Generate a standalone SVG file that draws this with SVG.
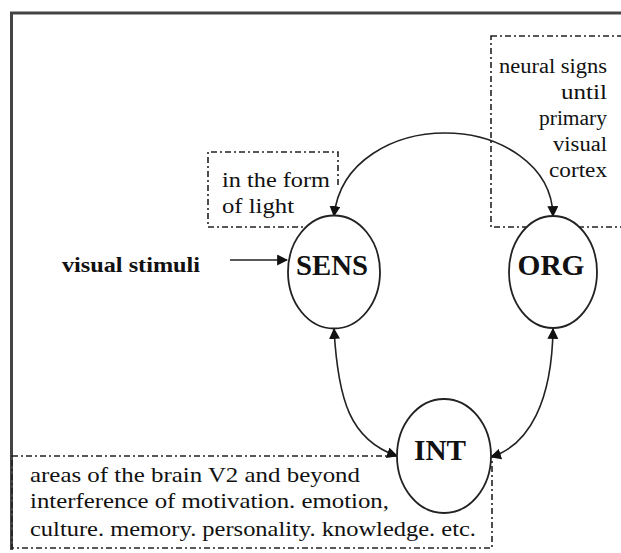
<svg xmlns="http://www.w3.org/2000/svg" width="621" height="553" viewBox="0 0 621 553">
<style>
.frame{fill:none;stroke:#444;stroke-width:3}
.box{fill:none;stroke:#222;stroke-width:1.6;stroke-dasharray:6,3,2,3}
.node{fill:#fff;stroke:#222;stroke-width:1.8}
.edge{fill:none;stroke:#222;stroke-width:1.6}
.lbl{font-family:'Liberation Serif','Times New Roman',Times,serif;font-size:20px;fill:#111}
.big{font-size:21px}
.nl{font-family:'Liberation Serif','Times New Roman',Times,serif;font-size:29px;font-weight:bold;fill:#111;text-anchor:middle}
</style>
<defs>
<marker id="ah" viewBox="0 0 10 10" refX="9" refY="5" markerWidth="11" markerHeight="11" markerUnits="userSpaceOnUse" orient="auto-start-reverse">
<path d="M0,0 L10,5 L0,10 z" fill="#111"/>
</marker>
</defs>
<rect width="621" height="553" fill="#fff"/>
<path class="frame" d="M11.5,550 V13 H621"/>
<g id="box-light">
<path class="box" d="M338,185 V152 H208 V227 H305"/>
<text class="lbl" x="222" y="187" textLength="108" lengthAdjust="spacingAndGlyphs">in the form</text>
<text class="lbl" x="222" y="213" textLength="72" lengthAdjust="spacingAndGlyphs">of light</text>
</g>
<g id="box-neural">
<rect class="box" x="491" y="36" width="140" height="191"/>
<text class="lbl" x="607" y="73" text-anchor="end" textLength="108" lengthAdjust="spacingAndGlyphs">neural signs</text>
<text class="lbl" x="607" y="99" text-anchor="end" textLength="46" lengthAdjust="spacingAndGlyphs">until</text>
<text class="lbl" x="607" y="125" text-anchor="end" textLength="68" lengthAdjust="spacingAndGlyphs">primary</text>
<text class="lbl" x="607" y="151" text-anchor="end" textLength="54" lengthAdjust="spacingAndGlyphs">visual</text>
<text class="lbl" x="607" y="177" text-anchor="end" textLength="58" lengthAdjust="spacingAndGlyphs">cortex</text>
</g>
<g id="box-areas">
<rect class="box" x="12" y="456" width="480" height="92"/>
<text class="lbl big" x="30" y="482" textLength="330" lengthAdjust="spacingAndGlyphs">areas of the brain V2 and beyond</text>
<text class="lbl big" x="30" y="508" textLength="359" lengthAdjust="spacingAndGlyphs">interference of motivation. emotion,</text>
<text class="lbl big" x="30" y="536" textLength="446" lengthAdjust="spacingAndGlyphs">culture. memory. personality. knowledge. etc.</text>
</g>
<g id="connectors">
<path class="edge" d="M334,216 C340,160 395,133 445,133 C500,133 552,165 553,216" marker-start="url(#ah)" marker-end="url(#ah)"/>
<path class="edge" d="M334,329 C338,400 350,440 397,456" marker-start="url(#ah)" marker-end="url(#ah)"/>
<path class="edge" d="M553,329 C552,400 530,445 491,457" marker-start="url(#ah)" marker-end="url(#ah)"/>
<path class="edge" d="M230,260 H287" marker-end="url(#ah)"/>
</g>
<g id="stimuli">
<text class="lbl" x="62" y="272" font-weight="bold" textLength="138" lengthAdjust="spacingAndGlyphs">visual stimuli</text>
</g>
<g id="SENS">
<ellipse class="node" cx="334" cy="272" rx="46" ry="56.5"/>
<text class="nl" x="332" y="275" textLength="72" lengthAdjust="spacingAndGlyphs">SENS</text>
</g>
<g id="ORG">
<ellipse class="node" cx="553" cy="272" rx="44" ry="56"/>
<text class="nl" x="551" y="275" textLength="67" lengthAdjust="spacingAndGlyphs">ORG</text>
</g>
<g id="INT">
<ellipse class="node" cx="444" cy="456" rx="47" ry="57"/>
<text class="nl" x="440" y="460" textLength="52" lengthAdjust="spacingAndGlyphs">INT</text>
</g>
</svg>
